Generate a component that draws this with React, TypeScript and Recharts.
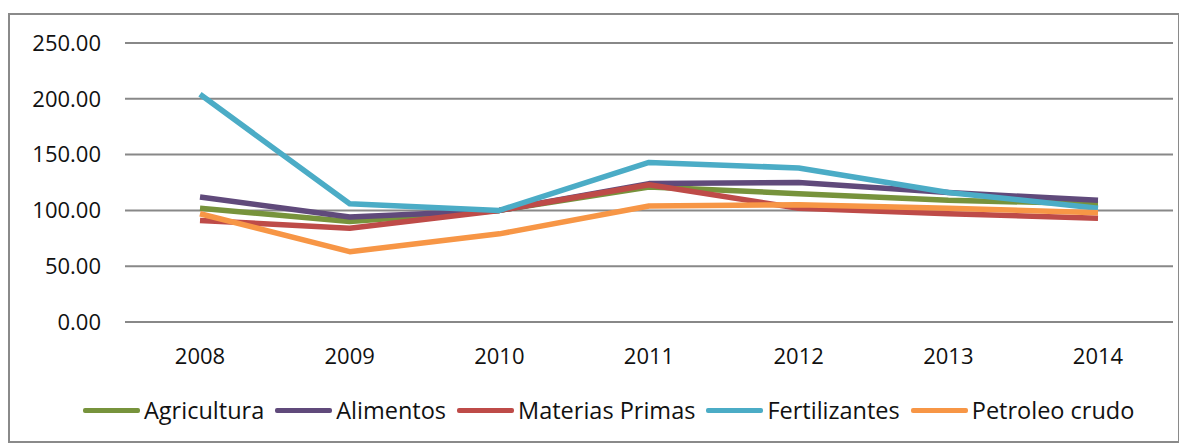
import { CartesianGrid, Legend, Line, LineChart, XAxis, YAxis } from "recharts";

const years = ["2008", "2009", "2010", "2011", "2012", "2013", "2014"];

const agricultura = [102, 90, 100, 121, 115, 109, 106];
const alimentos = [112, 94, 100, 124, 125, 116, 109];
const materiasPrimas = [91, 84, 100, 123, 102, 97, 93];
const fertilizantes = [204, 106, 100, 143, 138, 116, 102];
const petroleoCrudo = [97, 63, 79, 104, 105, 102, 98];

const yTicks = [0, 50, 100, 150, 200, 250];

const series = [
  { key: "Agricultura", values: agricultura, color: "#77933c" },
  { key: "Alimentos", values: alimentos, color: "#604a7b" },
  { key: "Materias Primas", values: materiasPrimas, color: "#be4b48" },
  { key: "Fertilizantes", values: fertilizantes, color: "#4bacc6" },
  { key: "Petroleo crudo", values: petroleoCrudo, color: "#f79646" },
];

const data = years.map((year, i) => {
  const row: Record<string, string | number> = { year };
  series.forEach((s) => {
    row[s.key] = s.values[i];
  });
  return row;
});

const FONT = "'Open Sans', sans-serif";
const TEXT = "#111111";

// legend keeps series order (recharts sorts the payload by name otherwise)
function ChartLegend() {
  return (
    <div
      style={{
        display: "flex",
        alignItems: "center",
        height: 32,
        lineHeight: "32px",
        paddingLeft: 73,
        fontFamily: FONT,
        fontSize: 23.5,
        color: TEXT,
      }}
    >
      {series.map((s) => (
        <div
          key={s.key}
          style={{ display: "flex", alignItems: "center", marginRight: 11 }}
        >
          <span
            style={{
              display: "inline-block",
              width: 57,
              height: 5,
              borderRadius: 2,
              background: s.color,
              marginRight: 4,
            }}
          />
          <span>{s.key}</span>
        </div>
      ))}
    </div>
  );
}

export default function App() {
  return (
    <div
      style={{
        marginTop: 5,
        width: 1168,
        height: 426,
        border: "2px solid #8a8a8a",
        background: "#fff",
      }}
    >
      <LineChart
        width={1168}
        height={426}
        data={data}
        margin={{ top: 28, right: 5, left: 0, bottom: 0 }}
      >
        <CartesianGrid vertical={false} stroke="#888888" strokeWidth={2} />
        <XAxis
          dataKey="year"
          axisLine={false}
          tickLine={false}
          tickMargin={20}
          height={87}
          padding={{ left: 75, right: 75 }}
          tick={{ fontSize: 22, fill: TEXT, fontFamily: FONT }}
        />
        <YAxis
          domain={[0, 250]}
          ticks={yTicks}
          width={115}
          axisLine={false}
          tickLine={false}
          tickMargin={18}
          tickFormatter={(v) => Number(v).toFixed(2)}
          tick={{ fontSize: 22, fill: TEXT, fontFamily: FONT }}
        />
        {series.map((s) => (
          <Line
            key={s.key}
            type="linear"
            dataKey={s.key}
            stroke={s.color}
            strokeWidth={5.5}
            strokeLinejoin="round"
            dot={false}
            activeDot={false}
            isAnimationActive={false}
          />
        ))}
        <Legend
          content={<ChartLegend />}
          wrapperStyle={{ top: 379, left: 0, width: 1168 }}
        />
      </LineChart>
    </div>
  );
}
